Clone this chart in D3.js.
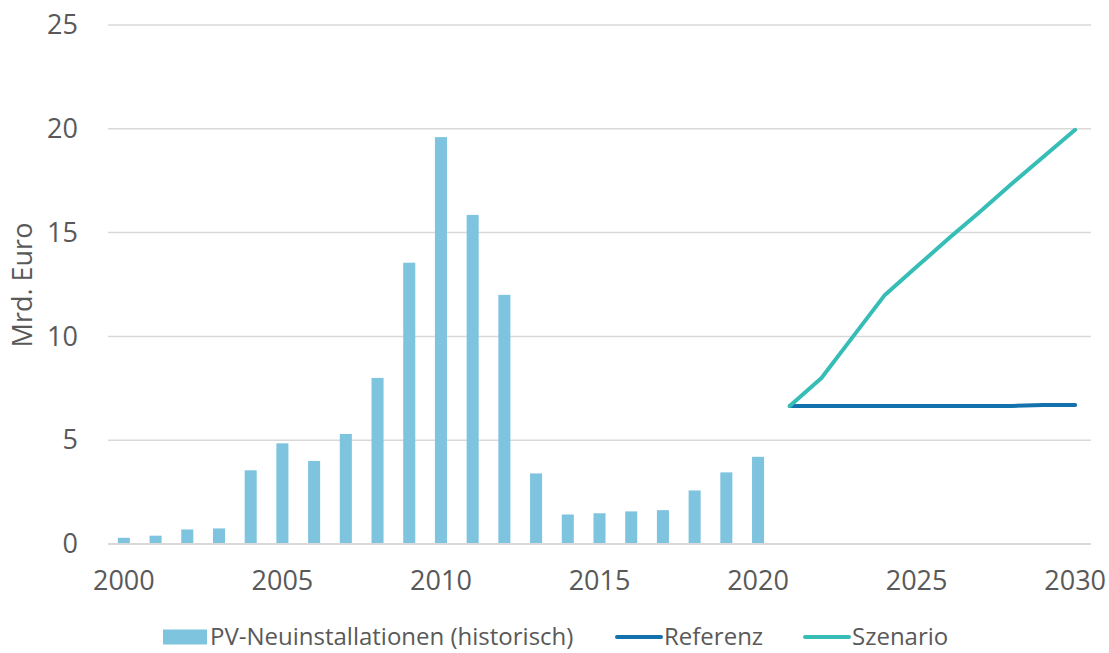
<!DOCTYPE html>
<html>
<head>
<meta charset="utf-8">
<script src="https://cdn.jsdelivr.net/npm/d3@7"></script>
<style>
  html, body { margin: 0; padding: 0; background: #fff; }
  svg { display: block; font-family: "Open Sans", "Noto Sans", sans-serif; }
</style>
</head>
<body>
<svg id="chart" width="1109" height="653"></svg>
<script>
// Jahre der Achse
const years = d3.range(2000, 2031);

// Historische PV-Neuinstallationen (Mrd. Euro), 2000–2020
const histYears = d3.range(2000, 2021);
const histValues = [0.3, 0.4, 0.7, 0.75, 3.55, 4.85, 4.0, 5.3, 8.0, 13.55, 19.6,
                    15.85, 12.0, 3.4, 1.42, 1.48, 1.57, 1.63, 2.58, 3.45, 4.2];

// Projektionen 2021–2030
const projYears = d3.range(2021, 2031);
const referenzValues = [6.65, 6.65, 6.65, 6.65, 6.65, 6.65, 6.65, 6.65, 6.7, 6.7];
const szenarioValues = [6.65, 8.0, 10.0, 12.0, 13.35, 14.7, 16.0, 17.35, 18.65, 19.95];

const yTicks = [0, 5, 10, 15, 20, 25];
const xTickYears = [2000, 2005, 2010, 2015, 2020, 2025, 2030];

const seriesNames = ["PV-Neuinstallationen (historisch)", "Referenz", "Szenario"];
const colors = { bar: "#7fc4de", referenz: "#1371ad", szenario: "#35bdb6" };
const textColor = "#595959";

const svg = d3.select("#chart");
const plot = { left: 108, right: 1091, top: 25, bottom: 544 };

const x = d3.scaleBand().domain(years).range([plot.left, plot.right]).paddingInner(0).paddingOuter(0);
const y = d3.scaleLinear().domain([0, 25]).range([plot.bottom, plot.top]);
const barW = x.bandwidth() * 0.38;

// Gitternetzlinien
svg.append("g")
  .selectAll("line")
  .data(yTicks.filter(d => d > 0))
  .join("line")
  .attr("x1", plot.left).attr("x2", plot.right)
  .attr("y1", d => y(d)).attr("y2", d => y(d))
  .attr("stroke", "#d9d9d9").attr("stroke-width", 1.5);

// Y-Achse (Beschriftung)
const yAxis = svg.append("g")
  .attr("transform", `translate(${plot.left},0)`)
  .call(d3.axisLeft(y).tickValues(yTicks).tickSize(0).tickPadding(30));
yAxis.select(".domain").remove();
yAxis.selectAll("text")
  .attr("fill", textColor).style("font-size", "27px")
  .attr("font-family", "Open Sans, Noto Sans, sans-serif");

// Balken
svg.append("g")
  .selectAll("rect")
  .data(histYears.map((yr, i) => ({ yr, v: histValues[i] })))
  .join("rect")
  .attr("x", d => x(d.yr) + (x.bandwidth() - barW) / 2)
  .attr("width", barW)
  .attr("y", d => y(d.v))
  .attr("height", d => y(0) - y(d.v))
  .attr("fill", colors.bar);

// Nulllinie
svg.append("line")
  .attr("x1", plot.left).attr("x2", plot.right)
  .attr("y1", y(0)).attr("y2", y(0))
  .attr("stroke", "#d9d9d9").attr("stroke-width", 2);

// X-Achse
const xAxis = svg.append("g")
  .attr("transform", `translate(0,${plot.bottom})`)
  .call(d3.axisBottom(x).tickValues(xTickYears).tickSize(0).tickPadding(27));
xAxis.select(".domain").remove();
xAxis.selectAll("text")
  .attr("fill", textColor).style("font-size", "27px")
  .attr("font-family", "Open Sans, Noto Sans, sans-serif");

// Linien
const line = d3.line()
  .x(d => x(d.yr) + x.bandwidth() / 2)
  .y(d => y(d.v));

svg.append("path")
  .datum(projYears.map((yr, i) => ({ yr, v: referenzValues[i] })))
  .attr("d", line)
  .attr("fill", "none").attr("stroke", colors.referenz)
  .attr("stroke-width", 4).attr("stroke-linecap", "round").attr("stroke-linejoin", "round");

svg.append("path")
  .datum(projYears.map((yr, i) => ({ yr, v: szenarioValues[i] })))
  .attr("d", line)
  .attr("fill", "none").attr("stroke", colors.szenario)
  .attr("stroke-width", 4).attr("stroke-linecap", "round").attr("stroke-linejoin", "round");

// Achsentitel
svg.append("text")
  .attr("transform", "translate(32,285) rotate(-90)")
  .attr("text-anchor", "middle")
  .attr("fill", textColor)
  .style("font-size", "27px")
  .text("Mrd. Euro");

// Legende
const legendY = 637;
const lg = svg.append("g").style("font-size", "24px").attr("fill", textColor);

lg.append("rect").attr("x", 163).attr("y", legendY - 7.5).attr("width", 44).attr("height", 15).attr("fill", colors.bar);
lg.append("text").attr("x", 210).attr("y", legendY).attr("dy", "0.33em").text(seriesNames[0]);

lg.append("line").attr("x1", 617).attr("x2", 661).attr("y1", legendY).attr("y2", legendY)
  .attr("stroke", colors.referenz).attr("stroke-width", 4).attr("stroke-linecap", "round");
lg.append("text").attr("x", 664).attr("y", legendY).attr("dy", "0.33em").text(seriesNames[1]);

lg.append("line").attr("x1", 805).attr("x2", 849).attr("y1", legendY).attr("y2", legendY)
  .attr("stroke", colors.szenario).attr("stroke-width", 4).attr("stroke-linecap", "round");
lg.append("text").attr("x", 852).attr("y", legendY).attr("dy", "0.33em").text(seriesNames[2]);
</script>
</body>
</html>
